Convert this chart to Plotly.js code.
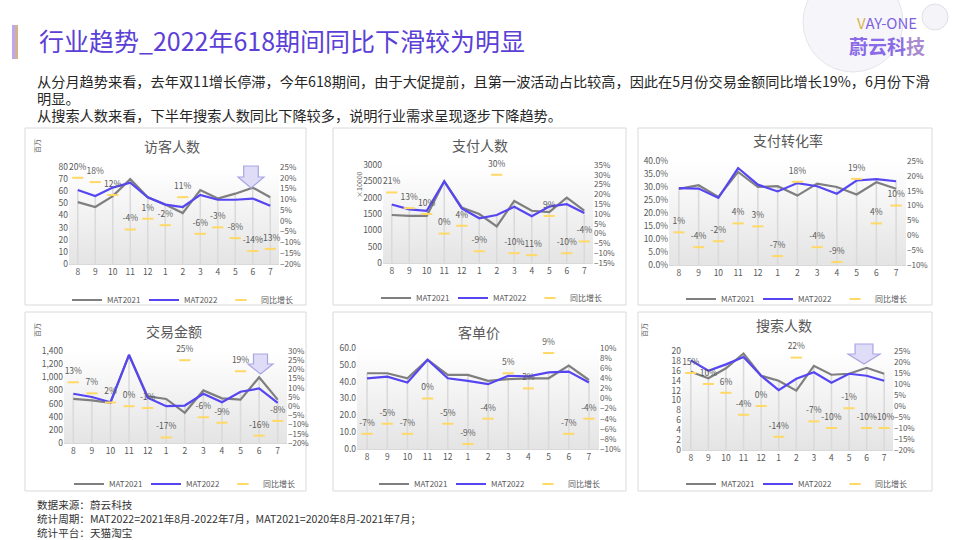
<!DOCTYPE html>
<html><head><meta charset="utf-8">
<script src="https://cdn.plot.ly/plotly-3.0.1.min.js"></script>
<style>html,body{margin:0;padding:0;background:#fff;overflow:hidden;width:960px;height:540px;}#chart{width:960px;height:540px;overflow:hidden;}</style>
</head><body><div id="chart"></div>
<script>
const months = ['8','9','10','11','12','1','2','3','4','5','6','7'];
const visitors2021 = [51,47,56,70,55,49,42,61,54,58,63,55];
const visitors2022 = [61,56,63,67,55,49,47,57,53,53,54,48];
const visitorsYoY = [20,18,12,-4,1,-2,11,-6,-3,-8,-14,-13];
const payers2021 = [1470,1440,1440,2500,1700,1500,1120,1900,1600,1560,2000,1600];
const payers2022 = [1790,1640,1600,2500,1670,1370,1470,1720,1430,1730,1800,1530];
const payersYoY = [21,13,10,0,4,-9,30,-10,-11,9,-10,-4];
const conv2021 = [29.3,30.7,26.2,35.8,30.0,30.3,26.7,31.3,30.0,27.1,31.8,29.3];
const conv2022 = [29.6,29.4,25.8,37.3,30.9,28.3,31.5,30.3,27.4,32.5,33.0,32.2];
const convYoY = [1,-4,-2,4,3,-7,18,-4,-9,19,4,10];
const gmv2021 = [670,650,610,1340,710,670,460,800,680,660,1000,660];
const gmv2022 = [750,700,620,1340,690,560,570,750,620,780,830,610];
const gmvYoY = [13,7,2,0,-1,-17,25,-6,-9,19,-16,-8];
const aov2021 = [45,45,42,53,44,44,40.5,41.5,42,42,49.5,41];
const aov2022 = [42,43,39.5,53,42,40.5,38.5,43.5,43.2,45.5,46,39.5];
const aovYoY = [-7,-5,-7,0,-5,-9,-4,5,2,9,-7,-4];
const search2021 = [15.8,14.5,16.5,19.5,15,14,12,17,15.2,15.4,16.6,15.4];
const search2022 = [18.1,16,17.3,18.8,15,12.1,14.4,15.7,13.6,15.4,15,14];
const searchYoY = [15,10,6,-4,0,-14,22,-7,-10,-1,-10,-10];
const seriesNames = ['MAT2021','MAT2022','同比增长'];
const footerLines = ['数据来源：蔚云科技', '统计周期：MAT2022=2021年8月-2022年7月，MAT2021=2020年8月-2021年7月；', '统计平台：天猫淘宝'];

const W = 960, H = 540;
const FONT = 'Noto Sans CJK SC, sans-serif';
const GRAY = '#595959';
const px = x => x / W;
const py = y => 1 - y / H;

const panels = [
  {title:'访客人数', unit:'百万', a:visitors2021, b:visitors2022, yoy:visitorsYoY, lr:[0,80], ld:10, lfmt:'', rr:[-20,25], rd:5,
   box:[25,128,306,305], plot:[69,167,279,264], tpos:[172,146], upos:[37,146], leg:[67,300], arrow:[238,166,264,188]},
  {title:'支付人数', unit:'×10000', a:payers2021, b:payers2022, yoy:payersYoY, lr:[0,3000], ld:500, lfmt:'d', rr:[-15,35], rd:5,
   box:[333,128,626,305], plot:[383,165,593,263], tpos:[480,145], upos:[359,185], leg:[376,298]},
  {title:'支付转化率', unit:'', a:conv2021, b:conv2022, yoy:convYoY, lr:[0,40], ld:5, lfmt:'.1f', lsuf:'%', rr:[-10,25], rd:5,
   box:[638,128,932,305], plot:[669,161,906,265], tpos:[788,140], leg:[681,299]},
  {title:'交易金额', unit:'百万', a:gmv2021, b:gmv2022, yoy:gmvYoY, lr:[0,1400], ld:200, lfmt:',d', rr:[-20,30], rd:5,
   box:[25,312,306,491], plot:[64,351,287,443], tpos:[174,331], upos:[37,330], leg:[69,484], arrow:[248,354,273,374]},
  {title:'客单价', unit:'', a:aov2021, b:aov2022, yoy:aovYoY, lr:[0,60], ld:10, lfmt:'.1f', rr:[-10,10], rd:2,
   box:[333,312,626,491], plot:[357,348,599,449], tpos:[479,332], leg:[374,484]},
  {title:'搜索人数', unit:'百万', a:search2021, b:search2022, yoy:searchYoY, lr:[0,20], ld:2, lfmt:'', rr:[-20,25], rd:5,
   box:[638,312,932,491], plot:[682,351,893,450], tpos:[784,325], upos:[644,330], leg:[681,484], arrow:[848,344,880,364]}
];

const grad = 'data:image/svg+xml;utf8,' + encodeURIComponent('<svg xmlns="http://www.w3.org/2000/svg" width="10" height="100" viewBox="0 0 10 100" preserveAspectRatio="none"><defs><linearGradient id="g" x1="0" y1="0" x2="0" y2="1"><stop offset="0" stop-color="#ffffff"/><stop offset="1" stop-color="#e4e4e4"/></linearGradient></defs><rect width="10" height="100" fill="url(#g)"/></svg>');

const data = [];
const layout = {
  width: W, height: H, autosize:false, margin:{l:0,r:0,t:0,b:0, autoexpand:false},
  paper_bgcolor:'#ffffff', plot_bgcolor:'rgba(0,0,0,0)',
  font:{family:FONT, color:GRAY, size:9},
  showlegend:true, shapes:[], annotations:[], images:[]
};

panels.forEach((p, k) => {
  const xid = k === 0 ? 'x' : 'x' + (k + 1);
  const ylN = 2 * k + 1, yrN = 2 * k + 2;
  const ylid = ylN === 1 ? 'y' : 'y' + ylN;
  const yrid = 'y' + yrN;
  const legId = k === 0 ? 'legend' : 'legend' + (k + 1);
  const [x0, y0, x1, y1] = p.plot;

  layout['xaxis' + (k === 0 ? '' : k + 1)] = {
    domain:[px(x0), px(x1)], anchor: ylid, type:'category', range:[-0.5, 11.5],
    showline:true, linecolor:'#D9D9D9', linewidth:1, showgrid:false, zeroline:false, ticks:'',
    tickfont:{size:8.5, color:GRAY}, fixedrange:true, automargin:false
  };
  layout['yaxis' + (ylN === 1 ? '' : ylN)] = {
    domain:[py(y1), py(y0)], anchor: xid, range:p.lr, dtick:p.ld, tick0:0,
    tickformat:p.lfmt, ticksuffix:p.lsuf || '', showgrid:false, zeroline:false, showline:false, ticks:'',
    tickfont:{size:8.5, color:GRAY}, fixedrange:true, automargin:false
  };
  layout['yaxis' + yrN] = {
    overlaying: ylid, side:'right', anchor: xid, range:p.rr, dtick:p.rd, tick0:0,
    ticksuffix:'%', showgrid:false, zeroline:false, showline:false, ticks:'',
    tickfont:{size:8, color:GRAY}, fixedrange:true, automargin:false
  };
  layout[legId] = {
    orientation:'h', x:px(p.leg[0]), y:py(p.leg[1]), xanchor:'left', yanchor:'middle',
    font:{size:8, color:GRAY}, bgcolor:'rgba(0,0,0,0)', entrywidth:32, entrywidthmode:'pixels',
    itemwidth:30, tracegroupgap:0, automargin:false
  };

  layout.images.push({source:grad, xref:xid + ' domain', yref:ylid + ' domain', x:0, y:1, sizex:1, sizey:1,
    xanchor:'left', yanchor:'top', sizing:'stretch', layer:'below'});

  const dx = [], dy = [];
  months.forEach((m, i) => { dx.push(m, m, null); dy.push(Math.max(p.a[i], p.b[i]), p.lr[0], null); });
  data.push({type:'scatter', mode:'lines', x:dx, y:dy, xaxis:xid, yaxis:ylid, showlegend:false,
    hoverinfo:'skip', line:{color:'#DADADA', width:1.6}});

  data.push({type:'scatter', mode:'lines', name:seriesNames[0], x:months, y:p.a, xaxis:xid, yaxis:ylid,
    legend:legId, line:{color:'#7F7F7F', width:2.2}});
  data.push({type:'scatter', mode:'lines', name:seriesNames[1], x:months, y:p.b, xaxis:xid, yaxis:ylid,
    legend:legId, line:{color:'#5646F2', width:2.2}});
  data.push({type:'scatter', mode:'markers+text', name:seriesNames[2], x:months, y:p.yoy, xaxis:xid, yaxis:yrid,
    legend:legId, text:p.yoy.map(v => v + '%'), textposition:'top center', textfont:{size:8.5, color:GRAY},
    marker:{symbol:'line-ew', size:8, color:'#FFD966', line:{color:'#FFD966', width:2}}, cliponaxis:false});

  layout.shapes.push({type:'rect', xref:'paper', yref:'paper', x0:px(p.box[0]), x1:px(p.box[2]),
    y0:py(p.box[3]), y1:py(p.box[1]), line:{color:'#D9D9D9', width:1}, fillcolor:'rgba(0,0,0,0)', layer:'below'});
  layout.annotations.push({xref:'paper', yref:'paper', x:px(p.tpos[0]), y:py(p.tpos[1]), text:p.title,
    showarrow:false, xanchor:'center', yanchor:'middle', font:{size:14, color:GRAY}});
  if (p.unit) {
    layout.annotations.push({xref:'paper', yref:'paper', x:px(p.upos[0]), y:py(p.upos[1]), text:p.unit,
      showarrow:false, textangle:-90, xanchor:'center', yanchor:'middle', font:{size:7, color:GRAY}});
  }
  if (p.arrow) {
    const [ax0, ay0, ax1, ay1] = p.arrow;
    const aw = ax1 - ax0, ah = ay1 - ay0;
    const sx0 = ax0 + aw * 0.22, sx1 = ax1 - aw * 0.22, mid = ay0 + ah * 0.5, cx = (ax0 + ax1) / 2;
    const pts = [[sx0, ay0], [sx1, ay0], [sx1, mid], [ax1, mid], [cx, ay1], [ax0, mid], [sx0, mid]];
    const path = 'M' + pts.map(q => px(q[0]) + ',' + py(q[1])).join(' L') + ' Z';
    layout.shapes.push({type:'path', xref:'paper', yref:'paper', path:path,
      fillcolor:'#DEDCF6', line:{color:'#A9A5E4', width:1.2}, layer:'above'});
  }
});

layout.shapes.push({type:'rect', xref:'paper', yref:'paper', x0:px(12), x1:px(15), y0:py(59), y1:py(25), fillcolor:'#BCA8F2', line:{width:0}});
layout.shapes.push({type:'rect', xref:'paper', yref:'paper', x0:px(15), x1:px(18), y0:py(59), y1:py(25), fillcolor:'#D4B28E', line:{width:0}});
layout.shapes.push({type:'circle', xref:'paper', yref:'paper', x0:px(803), x1:px(903), y0:py(72), y1:py(-28), fillcolor:'rgba(236,234,244,0.45)', line:{color:'rgba(205,205,218,0.5)', width:1}, layer:'below'});
layout.shapes.push({type:'circle', xref:'paper', yref:'paper', x0:px(922), x1:px(948), y0:py(30), y1:py(4), fillcolor:'rgba(236,234,244,0.5)', line:{color:'rgba(205,205,218,0.6)', width:1}, layer:'below'});

const pageTexts = [
  {x:37, y:40, text:'行业趋势_2022年618期间同比下滑较为明显', size:25, color:'#5B3FD6', anchor:'left'},
  {x:35, y:81, text:'从分月趋势来看，去年双11增长停滞，今年618期间，由于大促提前，且第一波活动占比较高，因此在5月份交易金额同比增长19%，6月份下滑', size:14.2, color:'#262626', anchor:'left'},
  {x:35, y:98, text:'明显。', size:14.2, color:'#262626', anchor:'left'},
  {x:35, y:115, text:'从搜索人数来看，下半年搜索人数同比下降较多，说明行业需求呈现逐步下降趋势。', size:14.2, color:'#262626', anchor:'left'},
  {x:35, y:518, text:footerLines.join('<br>'), size:10.6, color:'#333333', anchor:'left'},
  {x:887, y:22, text:'<span style="color:#D9B24A">V</span>AY-ONE', size:15, color:'#7F62E2', anchor:'center'},
  {x:887, y:45, text:'<b>蔚云科<span style="color:#A98AD0">技</span></b>', size:19, color:'#8A6AE6', anchor:'center'}
];
pageTexts.forEach(t => layout.annotations.push({xref:'paper', yref:'paper', x:px(t.x), y:py(t.y), text:t.text,
  showarrow:false, xanchor:t.anchor, align:'left', yanchor:'middle', font:{size:t.size, color:t.color, family:FONT}}));

Plotly.newPlot('chart', data, layout, {staticPlot:true, displayModeBar:false});
</script></body></html>
